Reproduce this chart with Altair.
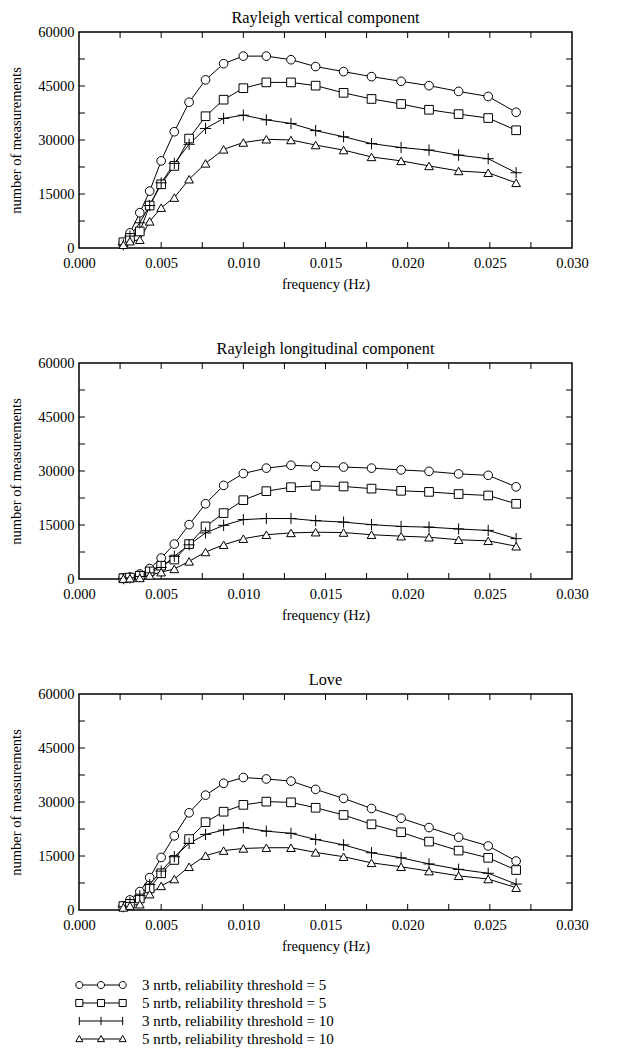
import altair as alt
import pandas as pd

FONT = "Liberation Serif"

# ---------------- data ----------------
freq = [0.0027, 0.0031, 0.0037, 0.0043, 0.0050, 0.0058, 0.0067, 0.0077, 0.0088, 0.0100,
        0.0114, 0.0129, 0.0144, 0.0161, 0.0178, 0.0196, 0.0213, 0.0231, 0.0249, 0.0266]

series_labels = [
    "3 nrtb, reliability threshold = 5",
    "5 nrtb, reliability threshold = 5",
    "3 nrtb, reliability threshold = 10",
    "5 nrtb, reliability threshold = 10",
]

panel_titles = ["Rayleigh vertical component", "Rayleigh longitudinal component", "Love"]

# Rayleigh vertical component
rv_3_5 = [1500, 4200, 9800, 15800, 24200, 32300, 40500, 46700, 51200, 53300,
          53300, 52300, 50400, 49000, 47600, 46300, 45100, 43500, 42100, 37700]
rv_5_5 = [1600, 2800, 4600, 11800, 17700, 22800, 30400, 36600, 41200, 44400,
          46000, 46000, 45100, 43100, 41400, 40000, 38400, 37200, 36100, 32700]
rv_3_10 = [900, 3300, 7000, 11800, 18100, 23500, 28800, 33200, 36000, 36900,
           35600, 34600, 32600, 30900, 29000, 27900, 27200, 25800, 24800, 20900]
rv_5_10 = [900, 1900, 2300, 7400, 11200, 14000, 19100, 23500, 27400, 29300,
           30200, 30000, 28600, 27200, 25300, 24200, 22800, 21400, 20900, 18100]

# Rayleigh longitudinal component
rl_3_5 = [300, 500, 1400, 2900, 5800, 9700, 15100, 20900, 26000, 29300,
          30800, 31600, 31300, 31100, 30800, 30300, 29900, 29200, 28800, 25600]
rl_5_5 = [200, 400, 900, 2100, 3700, 5400, 9700, 14600, 18300, 21900,
          24400, 25500, 25900, 25700, 25100, 24500, 24200, 23600, 23200, 20900]
rl_3_10 = [100, 300, 700, 1700, 3200, 6300, 9500, 12800, 14900, 16500,
           16800, 16800, 16200, 15800, 15100, 14600, 14400, 13900, 13500, 11200]
rl_5_10 = [100, 200, 300, 1000, 1900, 2800, 4900, 7500, 9500, 11200,
           12300, 12800, 13000, 12900, 12300, 11900, 11600, 10900, 10600, 9100]

# Love
lv_3_5 = [1100, 2800, 5100, 9000, 14600, 20600, 27000, 31900, 35200, 36800,
          36400, 35800, 33500, 31000, 28200, 25500, 22900, 20200, 17800, 13600]
lv_5_5 = [1100, 1700, 3200, 6000, 10200, 13900, 19700, 24400, 27300, 29200,
          30100, 29900, 28400, 26400, 23800, 21600, 19000, 16500, 14500, 11100]
lv_3_10 = [900, 2100, 4000, 7100, 10800, 14800, 18500, 21000, 22200, 22900,
           21900, 21300, 19600, 18100, 15900, 14500, 12800, 11300, 10200, 7200]
lv_5_10 = [700, 1200, 1600, 4400, 6700, 8600, 12000, 15100, 16500, 17100,
           17300, 17300, 16000, 14800, 13100, 12000, 10800, 9500, 8600, 6200]

x_label_values = [0.000, 0.005, 0.010, 0.015, 0.020, 0.025, 0.030]
x_tick_values = [0.0025, 0.005, 0.0075, 0.010, 0.0125, 0.015, 0.0175, 0.020, 0.0225, 0.025, 0.0275]
y_label_values = [0, 15000, 30000, 45000, 60000]
y_tick_values = [7500, 15000, 22500, 30000, 37500, 45000, 52500]

# ---------------- styling ----------------
W, H = 493, 216
TICK = 6
point_shapes = ["circle", "square", "M-1.3,0L1.3,0M0,-1.3L0,1.3", "triangle-up"]


def legend_path(kind):
    d, a = 2.89, 0.47
    cs = [-d, 0.0, d]
    if kind == "plus":
        p = [f"M{-d},0L{d},0"]
        for c in cs:
            p.append(f"M{c},{-0.55}L{c},{0.55}")
        return "".join(p)
    h = 0.57 * a if kind == "triangle" else a
    p = [f"M{-d + h},0L{-h},0M{h},0L{d - h},0"]
    for c in cs:
        if kind == "circle":
            p.append(f"M{c - a},0A{a},{a} 0 1,0 {c + a},0A{a},{a} 0 1,0 {c - a},0Z")
        elif kind == "square":
            p.append(f"M{c - a},{-a}L{c + a},{-a}L{c + a},{a}L{c - a},{a}Z")
        else:
            p.append(f"M{c},{-a}L{c + a},{0.75 * a}L{c - a},{0.75 * a}Z")
    return "".join(p)


legend_shapes = [legend_path(k) for k in ["circle", "square", "plus", "triangle"]]


def make_panel(title, values, with_legend=False):
    df = pd.DataFrame([
        {"freq": f, "count": v, "series": s}
        for s, vals in zip(series_labels, values)
        for f, v in zip(freq, vals)
    ])
    xs = alt.Scale(domain=[0, 0.03], nice=False, zero=False)
    ys = alt.Scale(domain=[0, 60000], nice=False)
    xax = alt.Axis(values=x_label_values, format=".3f", ticks=False, domain=False, grid=False,
                   labelFlush=False, labelFont=FONT, labelFontSize=14.5, labelColor="black",
                   labelPadding=8, title="frequency (Hz)", titleFont=FONT, titleFontSize=14.5,
                   titleFontWeight="normal", titleColor="black", titlePadding=8)
    yax = alt.Axis(values=y_label_values, format="d", ticks=False, domain=False, grid=False,
                   labelFont=FONT, labelFontSize=14.5, labelColor="black", labelPadding=5,
                   title="number of measurements", titleFont=FONT, titleFontSize=14.5,
                   titleFontWeight="normal", titleColor="black", titlePadding=14)
    X = alt.X("freq:Q", scale=xs, axis=xax)
    Y = alt.Y("count:Q", scale=ys, axis=yax)

    lines = alt.Chart(df).mark_line(color="black", strokeWidth=1).encode(
        x=X, y=Y, detail="series:N")
    points = alt.Chart(df).mark_point(filled=True, fill="white", stroke="black",
                                      strokeWidth=1, size=75, opacity=1).encode(
        x=X, y=Y,
        shape=alt.Shape("series:N", scale=alt.Scale(domain=series_labels, range=point_shapes),
                        legend=None))

    xt = pd.DataFrame({"freq": x_tick_values})
    yt = pd.DataFrame({"count": y_tick_values})
    rule = dict(color="black", strokeWidth=1)
    tb = alt.Chart(xt).mark_rule(**rule).encode(x=X, y=alt.value(H), y2=alt.value(H - TICK))
    tt = alt.Chart(xt).mark_rule(**rule).encode(x=X, y=alt.value(0), y2=alt.value(TICK))
    tl = alt.Chart(yt).mark_rule(**rule).encode(y=Y, x=alt.value(0), x2=alt.value(TICK))
    tr = alt.Chart(yt).mark_rule(**rule).encode(y=Y, x=alt.value(W), x2=alt.value(W - TICK))

    layers = [tb, tt, tl, tr, lines, points]
    if with_legend:
        leg_df = pd.DataFrame({"series": series_labels})
        leg = alt.Chart(leg_df).mark_point(filled=False, color="black",
                                           strokeWidth=1, opacity=1).encode(
            shape=alt.Shape("series:N",
                            scale=alt.Scale(domain=series_labels, range=legend_shapes),
                            legend=alt.Legend(orient="none", legendX=14, legendY=283,
                                              title=None, direction="vertical",
                                              symbolSize=225, symbolStrokeWidth=1,
                                              symbolStrokeColor="black",
                                              symbolOpacity=1,
                                              labelFont=FONT, labelFontSize=15,
                                              labelColor="black", labelLimit=500,
                                              labelOffset=33, rowPadding=2, padding=0))
        ).transform_filter("false")
        layers.append(leg)

    ch = alt.layer(*layers).properties(
        width=W, height=H,
        title=alt.TitleParams(text=title, font=FONT, fontSize=16.3, fontWeight="normal",
                              color="black", anchor="middle", frame="group", offset=-2))
    if with_legend:
        ch = ch.resolve_scale(shape="independent")
    return ch


p1 = make_panel(panel_titles[0], [rv_3_5, rv_5_5, rv_3_10, rv_5_10])
p2 = make_panel(panel_titles[1], [rl_3_5, rl_5_5, rl_3_10, rl_5_10])
p3 = make_panel(panel_titles[2], [lv_3_5, lv_5_5, lv_3_10, lv_5_10], with_legend=True)

chart = (
    alt.vconcat(p1, p2, p3, spacing=47)
    .properties(padding=0)
    .configure(font=FONT)
    .configure_view(stroke="black", strokeWidth=1.5)
)

chart.save("out.html", embed_options={"renderer": "svg", "actions": False})
